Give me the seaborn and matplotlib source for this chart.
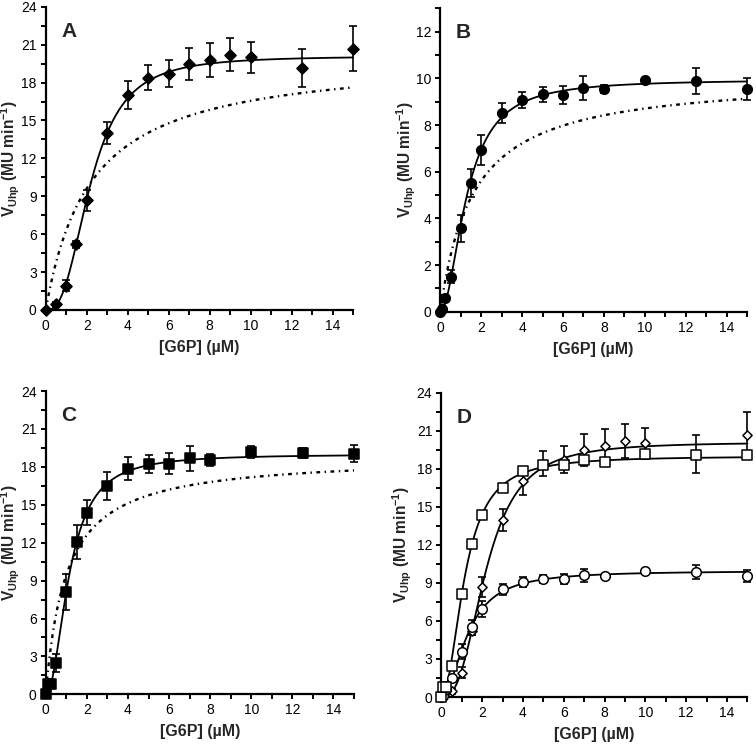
import numpy as np
import pandas as pd
import matplotlib
matplotlib.use("Agg")
import matplotlib.pyplot as plt
from matplotlib.ticker import MultipleLocator
import seaborn as sns

sns.set_theme(style="ticks")
plt.rcParams['font.family'] = ['Liberation Sans', 'DejaVu Sans']
plt.rcParams['mathtext.fontset'] = 'custom'
plt.rcParams['mathtext.rm'] = 'Liberation Sans'
plt.rcParams['mathtext.bf'] = 'Liberation Sans:bold'

# ---- data ----
# panel A (diamonds)
conc_a = [0, 0.5, 1, 1.5, 2, 3, 4, 5, 6, 7, 8, 9, 10, 12.5, 15]
rate_a = [0, 0.47, 1.93, 5.2, 8.68, 13.98, 17.0, 18.4, 18.7, 19.5, 19.8, 20.2, 20.0, 19.18, 20.66]
err_a = [0, 0.2, 0.43, 0.29, 0.81, 0.87, 1.1, 1.0, 1.07, 1.27, 1.34, 1.32, 1.25, 1.5, 1.78]

# panel B (circles)
conc_b = [0, 0.1, 0.25, 0.5, 1, 1.5, 2, 3, 4, 5, 6, 7, 8, 10, 12.5, 15]
rate_b = [0, 0.1, 0.6, 1.5, 3.57, 5.5, 6.93, 8.5, 9.07, 9.31, 9.29, 9.6, 9.53, 9.93, 9.89, 9.53]
err_b = [0, 0, 0.1, 0.27, 0.58, 0.6, 0.63, 0.43, 0.36, 0.31, 0.39, 0.52, 0.17, 0.1, 0.55, 0.47]

# panel C (squares)
conc_c = [0, 0.1, 0.25, 0.5, 1, 1.5, 2, 3, 4, 5, 6, 7, 8, 10, 12.5, 15]
rate_c = [0, 0.8, 0.8, 2.48, 8.1, 12.06, 14.38, 16.46, 17.86, 18.26, 18.26, 18.7, 18.52, 19.18, 19.1, 19.05]
err_c = [0, 0, 0.1, 0.72, 1.4, 1.32, 1.0, 1.1, 0.9, 0.71, 0.86, 0.99, 0.46, 0.5, 0.4, 0.68]

# fitted curves: [Vmax, K, Hill n]
hill_a = [20.1, 2.2, 2.7]
hill_b = [9.95, 1.3, 1.95]
hill_c = [19.0, 1.15, 2.07]
# hyperbolic (n = 1) comparison curves
mm_a = [20.2, 2.2, 1.0]
mm_b = [10.1, 1.6, 1.0]
mm_c = [18.9, 1.0, 1.0]

xgrid = np.linspace(0, 15, 400)


def hill(p):
    vmax, k, n = p
    r = (xgrid / k) ** n
    return vmax * r / (1 + r)


DOTTED = (0, (1.6, 1.9, 0.6, 1.9))
YLABEL = r'$\mathbf{V}_{\mathbf{Uhp}}$ (MU min$^{\mathbf{-1}}$)'


def style_axis(ax, ymax, ystep, letter, ylab_x):
    ax.set_xlim(0, 15)
    ax.set_ylim(0, ymax)
    ax.xaxis.set_major_locator(MultipleLocator(2))
    ax.xaxis.set_minor_locator(MultipleLocator(1))
    ax.yaxis.set_major_locator(MultipleLocator(ystep))
    ax.yaxis.set_minor_locator(MultipleLocator(ystep / 2))
    ax.tick_params(which='both', direction='out', length=3.5, width=1.4,
                   labelsize=10, color='black', labelcolor='black', pad=3)
    for s in ['left', 'bottom']:
        ax.spines[s].set_linewidth(1.6)
        ax.spines[s].set_color('black')
    sns.despine(ax=ax)
    ax.set_xlabel('[G6P] (µM)', fontsize=11.5, fontweight='bold', labelpad=5)
    ax.set_ylabel(YLABEL, fontsize=11.2, fontweight='bold')
    # anchor is the right edge of the rotated label
    ax.yaxis.set_label_coords(ylab_x, 0.5)
    ax.text(0.05, 0.92, letter, transform=ax.transAxes, fontsize=15,
            fontweight='bold', ha='left', va='center')
    ax.set_facecolor('white')


def panel(ax, conc, rate, err, fit, mm, marker, size, face, errs=True, dotted=True):
    ax.plot(xgrid, hill(fit), color='black', lw=1.3, zorder=2, clip_on=False)
    if dotted:
        ax.plot(xgrid, hill(mm), color='black', lw=1.7, ls=DOTTED, zorder=2)
    if errs:
        eb = ax.errorbar(conc, rate, yerr=err, fmt='none', ecolor='black',
                         elinewidth=1.2, capsize=3.2, capthick=1.2, zorder=3)
        for art in eb.get_children():
            art.set_clip_on(False)
    df = pd.DataFrame({'x': conc, 'y': rate})
    sns.scatterplot(data=df, x='x', y='y', ax=ax, marker=marker, s=size,
                    color=face, edgecolor='black', linewidth=1.1, zorder=4,
                    legend=False, clip_on=False)


fig = plt.figure(figsize=(7.56, 7.45), dpi=100)
fig.patch.set_facecolor('white')
axA = fig.add_axes([0.0605, 0.5839, 0.4065, 0.4070])
axB = fig.add_axes([0.5824, 0.5816, 0.4057, 0.4072])
axC = fig.add_axes([0.0605, 0.0680, 0.4078, 0.4071])
axD = fig.add_axes([0.5838, 0.0644, 0.4048, 0.4085])

panel(axA, conc_a, rate_a, err_a, hill_a, mm_a, 'D', 32, 'black')
style_axis(axA, 24, 3, 'A', -0.077)

panel(axB, conc_b, rate_b, err_b, hill_b, mm_b, 'o', 48, 'black')
style_axis(axB, 13, 2, 'B', -0.073)
axB.yaxis.set_major_locator(MultipleLocator(2))

panel(axC, conc_c, rate_c, err_c, hill_c, mm_c, 's', 48, 'black')
style_axis(axC, 24, 3, 'C', -0.077)

panel(axD, conc_a, rate_a, err_a, hill_a, mm_a, 'D', 22, 'white', dotted=False)
panel(axD, conc_b, rate_b, err_b, hill_b, mm_b, 'o', 48, 'white', dotted=False)
panel(axD, conc_c, rate_c, err_c, hill_c, mm_c, 's', 50, 'white', errs=False, dotted=False)
style_axis(axD, 24, 3, 'D', -0.09)

fig.savefig('out.png', dpi=100, facecolor='white')
